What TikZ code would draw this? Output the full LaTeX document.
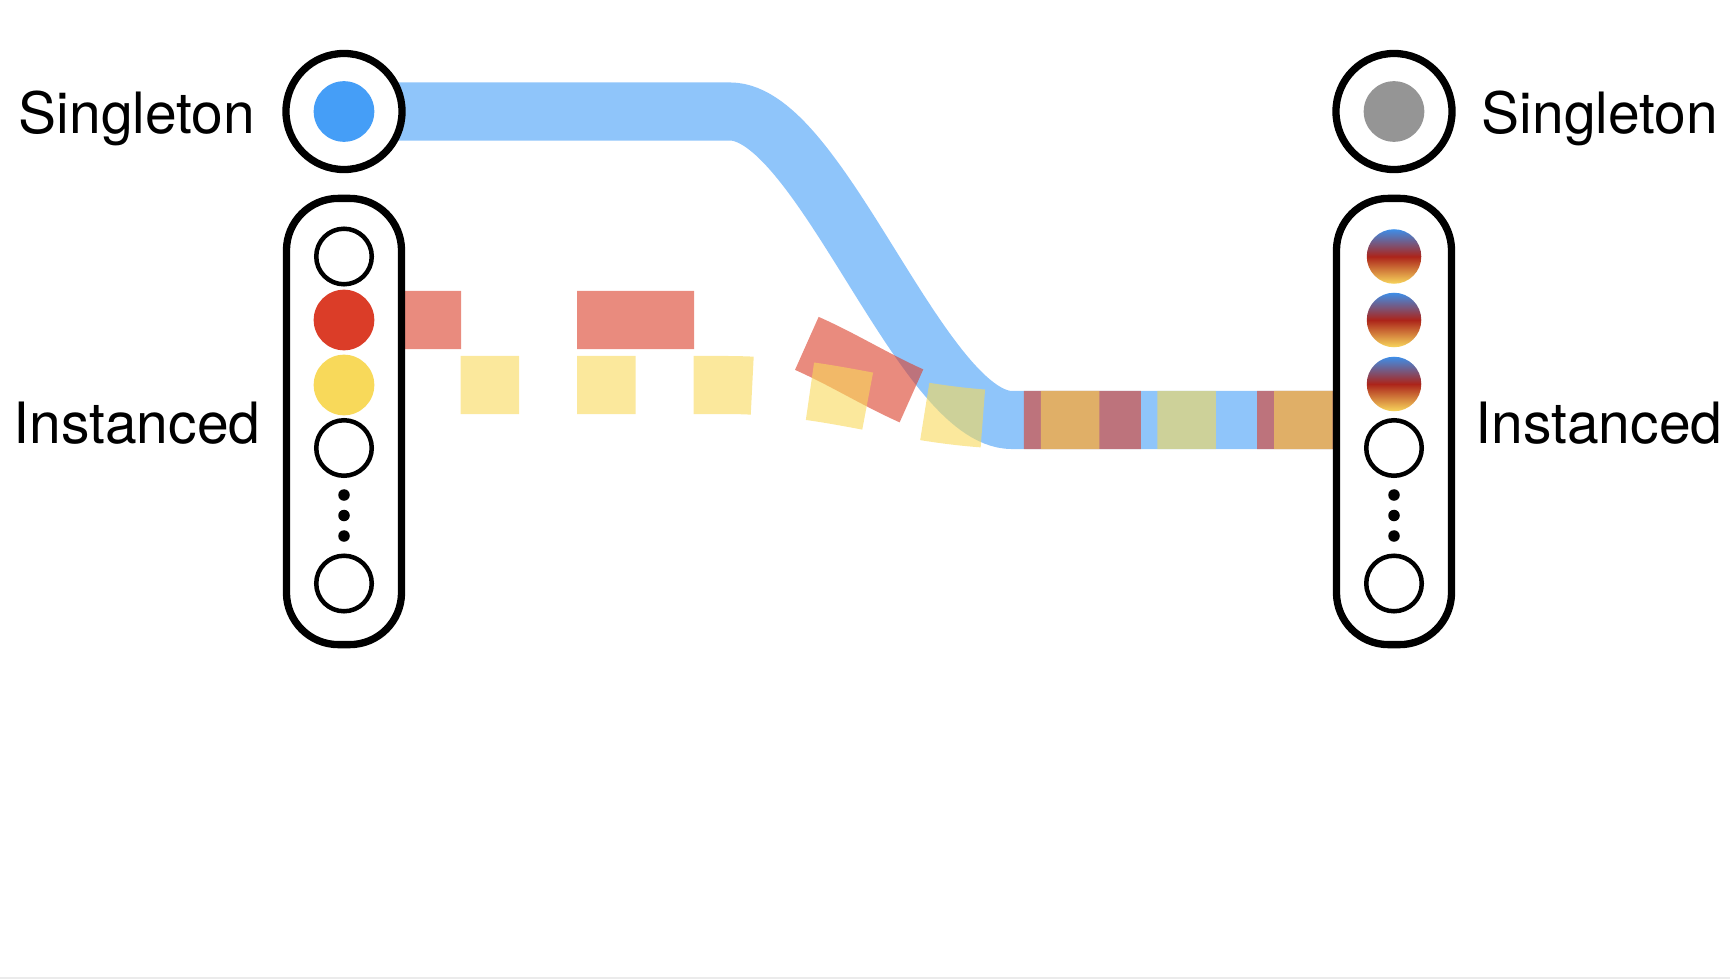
\documentclass[tikz,border=0pt]{standalone}
\usepackage{fontspec}
\setmainfont{TeX Gyre Heros}
\usetikzlibrary{backgrounds}
\definecolor{flowblue}{RGB}{69,158,247}
\definecolor{flowred}{RGB}{219,61,40}
\definecolor{flowyellow}{RGB}{248,217,90}
\definecolor{idlegrey}{RGB}{149,149,149}
\definecolor{mixtop}{RGB}{62,142,232}
\definecolor{mixmid}{RGB}{172,36,26}
\definecolor{mixbot}{RGB}{248,214,92}
\definecolor{edgegrey}{RGB}{235,235,235}

\begin{document}
\begin{tikzpicture}[x=0.01cm,y=-0.01cm,line cap=round,line join=round,
    font=\fontsize{16.2}{19}\selectfont,
    band/.style={line width=5.8mm,line cap=butt,draw opacity=0.6},
    holder/.style={draw,line width=0.73mm,fill=white,rounded corners=5.2mm,
      minimum width=11.5mm,minimum height=44.6mm,inner sep=0pt},
    ring/.style={circle,draw,line width=0.73mm,fill=white,minimum size=11.6mm,inner sep=0pt},
    slot/.style={circle,draw,line width=0.45mm,fill=white,minimum size=5.55mm,inner sep=0pt},
    token/.style={circle,minimum size=6.06mm,inner sep=0pt},
    mixed/.style={circle,minimum size=5.45mm,inner sep=0pt,
      top color=mixtop,bottom color=mixbot,middle color=mixmid},
    more/.style={circle,fill,minimum size=1.15mm,inner sep=0pt},
    tag/.style={anchor=base,inner sep=0pt}]
  \useasboundingbox (0,0) rectangle (1730,979);
  \draw[edgegrey,line width=0.2mm,line cap=butt] (0,978) -- (1730,978);

  % columns
  \node[holder] (instL) at (344,421.5) {};
  \node[holder] (instR) at (1394,421.5) {};
  \node[ring] (singL) at (344,111.5) {};
  \node[ring] (singR) at (1394,111.5) {};
  \node[token,fill=flowblue] (dotL) at (singL) {};
  \node[token,fill=idlegrey] (dotR) at (singR) {};

  \node[slot] (l1) at (344,256.5) {};
  \node[token,fill=flowred] (l2) at (344,320) {};
  \node[token,fill=flowyellow] (l3) at (344,385) {};
  \node[slot] (l4) at (344,448) {};
  \node[slot] (l5) at (344,583.5) {};
  \foreach \y [count=\k] in {256.5,320,384}
    \node[mixed] (r\k) at (1394,\y) {};
  \node[slot] (r4) at (1394,448) {};
  \node[slot] (r5) at (1394,583.5) {};
  \foreach \y [count=\k] in {495,515.5,536} {
    \node[more] (gapL\k) at (344,\y) {};
    \node[more] (gapR\k) at (1394,\y) {};
  }

  \node[tag] (nameSL) at (137,134) {Singleton};
  \node[tag] (nameIL) at (137,443.5) {Instanced};
  \node[tag] (nameSR) at (1600,133.5) {Singleton};
  \node[tag] (nameIR) at (1599,443.5) {Instanced};

  % flows
  \coordinate (join) at (1394,420);
  \coordinate (bA) at (730,111.5);
  \coordinate (bB) at (1012,420);
  \coordinate (rA) at (705,320);
  \coordinate (rB) at (1015,420);
  \coordinate (yA) at (725,385);
  \coordinate (yB) at (1025,420);
  \begin{scope}[on background layer]
    \draw[band,flowblue] (dotL.center) -- (bA)
      .. controls (820,111.5) and (922,420) .. (bB) -- (join);
    \draw[band,flowred,dash pattern=on 11.7mm off 11.6mm] (l2.center) -- (rA)
      .. controls (827,320) and (893,420) .. (rB) -- (join);
    \draw[band,flowyellow,dash pattern=on 5.85mm off 5.8mm] (l3.center) -- (yA)
      .. controls (841,385) and (909,420) .. (yB) -- (join);
  \end{scope}
\end{tikzpicture}
\end{document}
